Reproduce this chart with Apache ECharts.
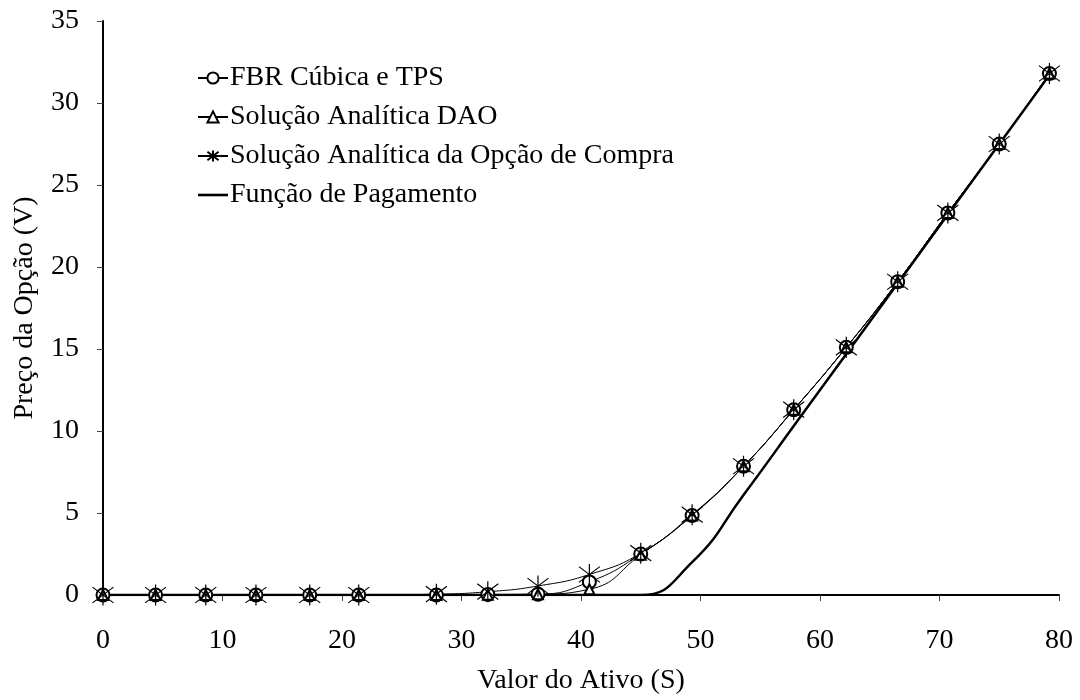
<!DOCTYPE html>
<html>
<head>
<meta charset="utf-8">
<script src="https://cdn.jsdelivr.net/npm/echarts@6/dist/echarts.min.js"></script>
<style>
html,body{margin:0;padding:0;background:#fff;}
#chart{width:1080px;height:700px;}
</style>
</head>
<body>
<div id="chart"></div>
<script>
// Valor do Ativo (S)
const assetValues = [0, 4.4, 8.6, 12.8, 17.3, 21.4, 27.9, 32.2, 36.4, 40.7, 45.0, 49.3, 53.6, 57.8, 62.2, 66.5, 70.7, 75.0, 79.2];
// Preço da Opção (V)
const fbrValues    = [0, 0, 0, 0, 0, 0, 0, 0.03, 0.05, 0.8, 2.5, 4.85, 7.85, 11.3, 15.1, 19.1, 23.3, 27.5, 31.8];
const daoValues    = [0, 0, 0, 0, 0, 0, 0, 0.02, 0.05, 0.35, 2.45, 4.85, 7.85, 11.3, 15.1, 19.1, 23.3, 27.5, 31.8];
const callValues   = [0, 0, 0, 0, 0, 0, 0.05, 0.2, 0.55, 1.25, 2.55, 4.9, 7.85, 11.3, 15.1, 19.1, 23.3, 27.5, 31.8];
const payoffValues = [0, 0, 0, 0, 0, 0, 0, 0, 0, 0, 0, 2.0, 6.1, 10.3, 14.7, 19.0, 23.2, 27.5, 31.7];
const seriesNames = ['FBR Cúbica e TPS', 'Solução Analítica DAO', 'Solução Analítica da Opção de Compra', 'Função de Pagamento'];
const xAxisTitle = 'Valor do Ativo (S)';
const yAxisTitle = 'Preço da Opção (V)';

const pairs = vals => assetValues.map((x, i) => [x, vals[i]]);
const FONT = 'Liberation Serif';
const starPath = 'path://M0,-10L0,10M-7.5,-7.5L7.5,7.5M-7.5,7.5L7.5,-7.5';
const barPath = 'path://M0,0L30,0L30,2.6L0,2.6Z';

const chart = echarts.init(document.getElementById('chart'), null, {renderer: 'canvas'});
chart.setOption({
  backgroundColor: '#ffffff',
  animation: false,
  textStyle: {fontFamily: FONT, color: '#000'},
  grid: {left: 103, right: 21, top: 21, bottom: 104, containLabel: false},
  legend: {
    orient: 'vertical',
    left: 192,
    top: 59,
    itemWidth: 30,
    itemHeight: 14,
    itemGap: 11,
    data: [
      {name: seriesNames[0]},
      {name: seriesNames[1]},
      {name: seriesNames[2]},
      {name: seriesNames[3], icon: barPath}
    ],
    textStyle: {fontFamily: FONT, fontSize: 28, color: '#000', padding: [0, 0, 0, -3]}
  },
  xAxis: {
    type: 'value',
    min: 0, max: 80, interval: 10,
    name: xAxisTitle,
    nameLocation: 'middle',
    nameGap: 72,
    nameTextStyle: {fontFamily: FONT, fontSize: 28, color: '#000'},
    axisLine: {show: true, onZero: false, lineStyle: {color: '#000', width: 2}},
    axisTick: {show: true, inside: false, length: 6, lineStyle: {color: '#444', width: 1}},
    axisLabel: {fontFamily: FONT, fontSize: 28, color: '#000', margin: 32},
    splitLine: {show: false}
  },
  yAxis: {
    type: 'value',
    min: 0, max: 35, interval: 5,
    name: yAxisTitle,
    nameLocation: 'middle',
    nameGap: 64,
    nameRotate: 90,
    nameTextStyle: {fontFamily: FONT, fontSize: 28, color: '#000'},
    axisLine: {show: true, onZero: false, lineStyle: {color: '#000', width: 2}},
    axisTick: {show: true, inside: false, length: 6, lineStyle: {color: '#444', width: 1}},
    axisLabel: {fontFamily: FONT, fontSize: 28, color: '#000', margin: 24},
    splitLine: {show: false}
  },
  series: [
    {
      name: seriesNames[0], type: 'line', data: pairs(fbrValues), smooth: true,
      symbol: 'emptyCircle', symbolSize: 13, z: 4,
      lineStyle: {color: '#000', width: 1},
      itemStyle: {color: '#000', borderColor: '#000', borderWidth: 1}
    },
    {
      name: seriesNames[1], type: 'line', data: pairs(daoValues), smooth: true,
      symbol: 'emptyTriangle', symbolSize: 10, z: 4,
      lineStyle: {color: '#000', width: 1},
      itemStyle: {color: '#000', borderColor: '#000', borderWidth: 1}
    },
    {
      name: seriesNames[2], type: 'line', data: pairs(callValues), smooth: true,
      symbol: starPath, symbolSize: 21, z: 4,
      lineStyle: {color: '#000', width: 1},
      itemStyle: {color: '#000', borderColor: '#000', borderWidth: 1.2}
    },
    {
      name: seriesNames[3], type: 'line', data: pairs(payoffValues), smooth: true,
      symbol: 'none', z: 3,
      lineStyle: {color: '#000', width: 2.5},
      itemStyle: {color: '#000', borderColor: '#000'}
    }
  ]
});
</script>
</body>
</html>
